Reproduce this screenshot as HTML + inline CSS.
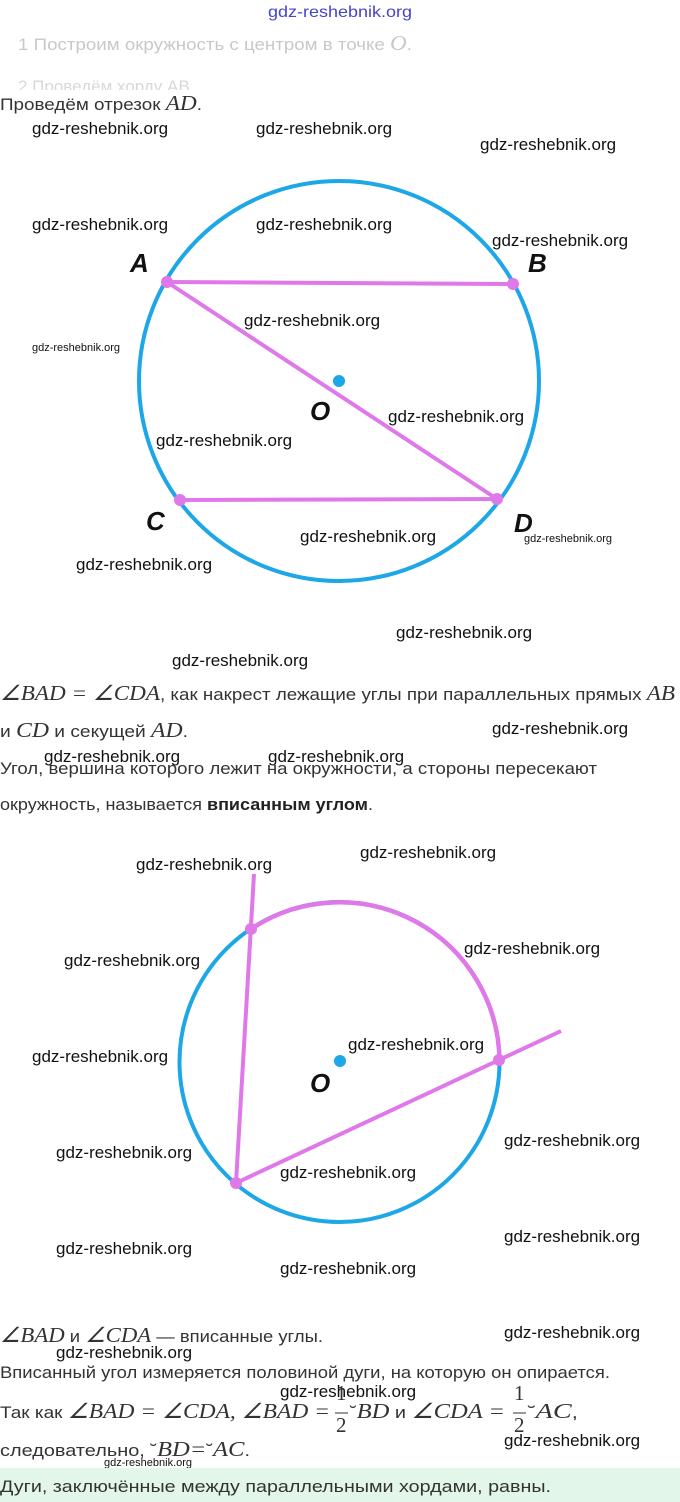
<!DOCTYPE html>
<html><head><meta charset="utf-8"><style>
html,body{margin:0;padding:0;background:#fff;}
svg{display:block}
.w{font-family:"Liberation Sans",sans-serif;font-size:17px;fill:#111;}
.ws{font-family:"Liberation Sans",sans-serif;font-size:11px;fill:#111;}
.t{font-family:"Liberation Sans","Noto Sans CJK SC",sans-serif;font-size:17px;fill:#333;}
.m{font-family:"Liberation Serif",serif;font-style:italic;font-size:21px;fill:#333;}
.L{font-family:"Liberation Sans",sans-serif;font-style:italic;font-weight:bold;font-size:26px;fill:#111;}
</style></head><body>
<svg width="680" height="1502" viewBox="0 0 680 1502" xmlns="http://www.w3.org/2000/svg">
<text x="268" y="17" font-family="Liberation Sans,sans-serif" font-size="16" fill="#4444cc" textLength="144" lengthAdjust="spacingAndGlyphs">gdz-reshebnik.org</text>
<text x="18" y="50" class="t" style="fill:#c8c8c8" textLength="394" lengthAdjust="spacingAndGlyphs">1  Построим окружность с центром в точке <tspan class="m" style="fill:#c8c8c8">O</tspan>.</text>
<text x="18" y="92" class="t" style="fill:#d8d8d8">2  Проведём хорду AB</text>
<rect x="0" y="90" width="680" height="10" fill="#fff"/>
<text x="0" y="110" class="t" textLength="202" lengthAdjust="spacingAndGlyphs">Проведём отрезок <tspan class="m">AD</tspan>.</text>

<text x="32" y="134" class="w">gdz-reshebnik.org</text>
<text x="256" y="134" class="w">gdz-reshebnik.org</text>
<text x="480" y="150" class="w">gdz-reshebnik.org</text>
<text x="32" y="230" class="w">gdz-reshebnik.org</text>
<text x="256" y="230" class="w">gdz-reshebnik.org</text>
<text x="492" y="246" class="w">gdz-reshebnik.org</text>

<circle cx="339" cy="381" r="200" fill="none" stroke="#1ea7e6" stroke-width="4"/>
<line x1="167" y1="282" x2="513" y2="284" stroke="#df78e8" stroke-width="4"/>
<line x1="167" y1="282" x2="497" y2="499" stroke="#df78e8" stroke-width="4"/>
<line x1="180" y1="500" x2="497" y2="499" stroke="#df78e8" stroke-width="4"/>
<g fill="#df78e8"><circle cx="167" cy="282" r="6"/><circle cx="513" cy="284" r="6"/><circle cx="180" cy="500" r="6"/><circle cx="497" cy="499" r="6"/></g>
<circle cx="339" cy="381" r="6" fill="#1ea7e6"/>
<text x="130" y="272" class="L">A</text>
<text x="528" y="272" class="L">B</text>
<text x="146" y="530" class="L">C</text>
<text x="514" y="532" class="L">D</text>
<text x="310" y="420" class="L">O</text>

<text x="244" y="326" class="w">gdz-reshebnik.org</text>
<text x="32" y="351" class="ws">gdz-reshebnik.org</text>
<text x="388" y="422" class="w">gdz-reshebnik.org</text>
<text x="156" y="446" class="w">gdz-reshebnik.org</text>
<text x="300" y="542" class="w">gdz-reshebnik.org</text>
<text x="524" y="542" class="ws">gdz-reshebnik.org</text>
<text x="76" y="570" class="w">gdz-reshebnik.org</text>
<text x="396" y="638" class="w">gdz-reshebnik.org</text>
<text x="172" y="666" class="w">gdz-reshebnik.org</text>

<text x="0" y="700" class="t" textLength="675" lengthAdjust="spacingAndGlyphs"><tspan class="m">∠BAD = ∠CDA</tspan>, как накрест лежащие углы при параллельных прямых <tspan class="m">AB</tspan></text>
<text x="0" y="737" class="t" textLength="188" lengthAdjust="spacingAndGlyphs">и <tspan class="m">CD</tspan> и секущей <tspan class="m">AD</tspan>.</text>
<text x="492" y="734" class="w">gdz-reshebnik.org</text>
<text x="0" y="774" class="t" textLength="597" lengthAdjust="spacingAndGlyphs">Угол, вершина которого лежит на окружности, а стороны пересекают</text>
<text x="44" y="762" class="w">gdz-reshebnik.org</text>
<text x="268" y="762" class="w">gdz-reshebnik.org</text>
<text x="0" y="810" class="t" textLength="373" lengthAdjust="spacingAndGlyphs">окружность, называется <tspan font-weight="bold" fill="#222">вписанным углом</tspan>.</text>

<text x="136" y="870" class="w">gdz-reshebnik.org</text>
<text x="360" y="858" class="w">gdz-reshebnik.org</text>
<text x="464" y="954" class="w">gdz-reshebnik.org</text>
<text x="64" y="966" class="w">gdz-reshebnik.org</text>

<circle cx="339.5" cy="1062" r="160" fill="none" stroke="#1ea7e6" stroke-width="4"/>
<path d="M251 929 A160 160 0 0 1 499.5 1062" fill="none" stroke="#df78e8" stroke-width="4.5"/>
<line x1="254" y1="874" x2="236" y2="1183" stroke="#df78e8" stroke-width="4"/>
<line x1="236" y1="1183" x2="561" y2="1031" stroke="#df78e8" stroke-width="4"/>
<g fill="#df78e8"><circle cx="251" cy="929" r="6"/><circle cx="499" cy="1060" r="6"/><circle cx="236" cy="1183" r="6"/></g>
<circle cx="340" cy="1061" r="6" fill="#1ea7e6"/>
<text x="310" y="1092" class="L">O</text>

<text x="32" y="1062" class="w">gdz-reshebnik.org</text>
<text x="348" y="1050" class="w">gdz-reshebnik.org</text>
<text x="504" y="1146" class="w">gdz-reshebnik.org</text>
<text x="56" y="1158" class="w">gdz-reshebnik.org</text>
<text x="280" y="1178" class="w">gdz-reshebnik.org</text>
<text x="504" y="1242" class="w">gdz-reshebnik.org</text>
<text x="56" y="1254" class="w">gdz-reshebnik.org</text>
<text x="280" y="1274" class="w">gdz-reshebnik.org</text>

<text x="0" y="1342" class="t" textLength="323" lengthAdjust="spacingAndGlyphs"><tspan class="m">∠BAD</tspan> и <tspan class="m">∠CDA</tspan> — вписанные углы.</text>
<text x="504" y="1338" class="w">gdz-reshebnik.org</text>
<text x="56" y="1358" class="w">gdz-reshebnik.org</text>
<text x="0" y="1378" class="t" textLength="610" lengthAdjust="spacingAndGlyphs">Вписанный угол измеряется половиной дуги, на которую он опирается.</text>
<text x="280" y="1397" class="w">gdz-reshebnik.org</text>
<text x="0" y="1418" class="t" textLength="330" lengthAdjust="spacingAndGlyphs">Так как <tspan class="m">∠BAD = ∠CDA, ∠BAD =</tspan></text>
<text x="336" y="1400" class="m" style="font-style:normal">1</text>
<line x1="335" y1="1413" x2="348" y2="1413" stroke="#333" stroke-width="1"/>
<text x="336" y="1432" class="m" style="font-style:normal">2</text>
<text x="350" y="1418" class="t" textLength="155" lengthAdjust="spacingAndGlyphs">˘<tspan class="m">BD</tspan> и <tspan class="m">∠CDA =</tspan></text>
<text x="514" y="1400" class="m" style="font-style:normal">1</text>
<line x1="513" y1="1413" x2="526" y2="1413" stroke="#333" stroke-width="1"/>
<text x="514" y="1432" class="m" style="font-style:normal">2</text>
<text x="528" y="1418" class="t" textLength="50" lengthAdjust="spacingAndGlyphs">˘<tspan class="m">AC</tspan>,</text>
<text x="504" y="1446" class="w">gdz-reshebnik.org</text>
<text x="0" y="1456" class="t" textLength="250" lengthAdjust="spacingAndGlyphs">следовательно, ˘<tspan class="m">BD</tspan><tspan class="m">=</tspan>˘<tspan class="m">AC</tspan>.</text>
<text x="104" y="1466" class="ws">gdz-reshebnik.org</text>

<rect x="0" y="1468" width="680" height="34" fill="#e2f7ea"/>
<text x="0" y="1492" class="t" textLength="551" lengthAdjust="spacingAndGlyphs">Дуги, заключённые между параллельными хордами, равны.</text>
</svg>
</body></html>
